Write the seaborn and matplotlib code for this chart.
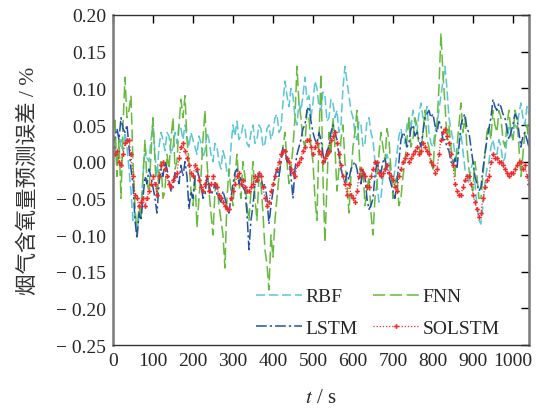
import numpy as np
import pandas as pd
import matplotlib
matplotlib.use("Agg")
import matplotlib.pyplot as plt
import seaborn as sns

# ---------------- data (sampled every 5 s) ----------------
t = list(range(0, 1041, 5))

rbf = [0.01, 0.025, -0.005, 0.01, 0.03, 0.015, 0.04, 0.02, -0.01, -0.04,
       -0.08, -0.07, -0.095, -0.075, -0.06, -0.02, 0.02, 0.005, 0.0, 0.03,
       0.055, 0.01, -0.02, 0.02, 0.04, 0.03, 0.015, 0.04, 0.035, 0.01,
       0.02, 0.04, 0.025, 0.05, 0.045, 0.03, 0.05, 0.035, 0.02, 0.04,
       0.03, 0.02, 0.01, 0.035, 0.025, 0.005, 0.015, 0.04, 0.03, 0.01,
       0.0, 0.025, 0.02, 0.0, -0.01, 0.015, 0.005, -0.015, -0.02, 0.02,
       0.05, 0.035, 0.055, 0.03, 0.035, 0.05, 0.045, 0.025, 0.02, 0.04,
       0.05, 0.025, 0.03, 0.05, 0.045, 0.02, 0.025, 0.045, 0.05, 0.03,
       0.04, 0.06, 0.065, 0.04, 0.045, 0.08, 0.11, 0.09, 0.075, 0.1,
       0.09, 0.06, 0.05, 0.08, 0.07, 0.09, 0.115, 0.085, 0.09, 0.06,
       0.08, 0.11, 0.1, 0.075, 0.07, 0.095, 0.09, 0.055, 0.06, 0.085,
       0.08, 0.06, 0.07, 0.04, 0.05, 0.1, 0.13, 0.11, 0.09, 0.07,
       0.06, 0.04, 0.03, 0.055, 0.05, 0.02, 0.025, 0.055, 0.06, 0.04,
       0.03, 0.0, -0.03, -0.055, -0.05, -0.02, -0.01, 0.01, 0.0, -0.02,
       -0.03, -0.01, 0.01, 0.035, 0.045, 0.03, 0.025, 0.05, 0.06, 0.045,
       0.07, 0.055, 0.04, 0.065, 0.08, 0.06, 0.06, 0.075, 0.04, 0.025,
       0.02, 0.04, 0.05, 0.07, 0.09, 0.11, 0.13, 0.1, 0.06, 0.045,
       0.03, 0.01, 0.0, 0.025, 0.04, 0.015, -0.01, -0.02, -0.03, -0.01,
       0.0, -0.03, -0.06, -0.08, -0.085, -0.06, -0.03, -0.01, 0.0, 0.02,
       0.03, 0.015, 0.01, 0.03, 0.02, 0.0, 0.005, 0.03, 0.05, 0.04,
       0.03, 0.05, 0.045, 0.065, 0.08, 0.06, 0.05, 0.075, 0.065]

fnn = [0.04, 0.06, -0.02, 0.03, -0.05, 0.05, 0.115, 0.06, 0.07, 0.09,
       0.0, -0.06, -0.1, -0.06, -0.08, -0.02, 0.03, -0.03, -0.04, 0.01,
       0.06, 0.0, -0.05, -0.01, 0.0, -0.05, -0.04, 0.01, -0.01, 0.03,
       0.06, -0.01, 0.0, 0.05, 0.085, 0.06, 0.09, 0.03, 0.0, -0.04,
       -0.06, -0.02, -0.09, -0.05, -0.02, 0.03, 0.07, 0.0, -0.04, -0.07,
       -0.1, -0.04, -0.03, -0.06, -0.08, -0.1, -0.145, -0.05, -0.01, -0.04,
       -0.06, -0.02, 0.01, -0.03, -0.05, 0.0, -0.02, -0.06, -0.08, -0.04,
       0.0, -0.05, -0.08, -0.02, -0.03, -0.07, -0.12, -0.14, -0.175, -0.1,
       -0.13, -0.08, -0.05, -0.02, 0.0, 0.02, 0.04, 0.0, -0.03, -0.01,
       0.02, 0.06, 0.13, 0.08, 0.06, 0.03, 0.02, 0.07, 0.06, 0.02,
       0.0, -0.05, -0.08, 0.03, 0.12, -0.02, -0.11, -0.03, 0.04, 0.01,
       0.06, 0.02, -0.04, -0.01, 0.03, 0.05, 0.0, -0.03, -0.07, -0.02,
       0.02, 0.04, 0.07, 0.02, -0.03, -0.01, -0.06, -0.04, -0.02, -0.07,
       -0.1, -0.05, -0.03, 0.01, 0.04, 0.02, 0.0, 0.045, 0.03, -0.01,
       -0.05, -0.03, -0.02, -0.06, -0.05, -0.02, 0.0, 0.03, 0.06, 0.02,
       0.03, 0.06, 0.05, 0.02, 0.01, 0.04, 0.07, 0.03, 0.02, 0.0,
       -0.01, 0.03, 0.05, 0.1, 0.175, 0.12, 0.08, 0.03, 0.05, 0.02,
       0.0, -0.02, 0.02, 0.05, 0.08, 0.04, 0.06, 0.02, -0.01, -0.03,
       -0.04, 0.0, -0.02, -0.05, -0.05, -0.02, 0.01, 0.04, 0.05, 0.03,
       0.07, 0.05, 0.04, 0.07, 0.06, 0.03, 0.02, 0.05, 0.07, 0.04,
       0.03, 0.07, 0.06, 0.02, -0.02, 0.01, 0.04, 0.05, 0.02]

lstm = [0.02, 0.035, 0.045, 0.03, 0.06, 0.045, 0.04, 0.05, 0.02, -0.01,
        -0.03, -0.08, -0.105, -0.07, -0.08, -0.05, -0.02, -0.03, -0.01, -0.02,
        -0.035, -0.05, -0.07, -0.03, -0.01, -0.02, 0.0, -0.01, -0.025, -0.04,
        -0.035, -0.015, -0.02, -0.03, -0.005, -0.02, 0.0, -0.02, -0.065, -0.04,
        -0.05, -0.02, -0.01, -0.02, -0.03, -0.05, -0.045, -0.02, -0.03, -0.045,
        -0.04, -0.03, -0.045, -0.05, -0.055, -0.04, -0.05, -0.06, -0.07, -0.05,
        -0.03, -0.015, -0.01, -0.03, -0.02, -0.035, -0.04, -0.07, -0.12, -0.08,
        -0.06, -0.03, -0.025, -0.015, -0.02, -0.035, -0.03, -0.05, -0.085, -0.06,
        -0.04, -0.02, -0.01, -0.02, 0.0, 0.02, 0.015, 0.0, 0.005, -0.02,
        -0.05, -0.01, 0.01, 0.02, 0.03, 0.045, 0.05, 0.07, 0.075, 0.055,
        0.04, 0.03, 0.025, 0.04, 0.03, 0.01, 0.0, 0.015, 0.02, 0.04,
        0.05, 0.04, 0.03, 0.01, -0.01, -0.02, -0.03, -0.015, -0.025, -0.01,
        -0.005, 0.0, -0.01, -0.025, -0.03, -0.01, -0.02, -0.05, -0.065, -0.06,
        -0.05, -0.02, 0.0, -0.01, -0.015, 0.0, 0.005, -0.01, -0.02, -0.03,
        -0.04, -0.05, -0.03, 0.0, 0.03, 0.04, 0.035, 0.02, 0.025, 0.045,
        0.05, 0.035, 0.04, 0.03, 0.02, 0.04, 0.06, 0.065, 0.07, 0.06,
        0.065, 0.05, 0.04, 0.055, 0.05, 0.03, 0.03, 0.02, 0.015, 0.0,
        -0.005, 0.005, -0.01, 0.02, 0.05, 0.06, 0.065, 0.045, 0.04, 0.02,
        0.0, -0.02, -0.03, -0.04, -0.035, -0.01, 0.01, 0.03, 0.045, 0.06,
        0.085, 0.075, 0.07, 0.08, 0.075, 0.065, 0.06, 0.045, 0.03, 0.04,
        0.05, 0.065, 0.06, 0.04, 0.02, 0.035, 0.04, 0.03, 0.02]

solstm = [0.02, 0.01, 0.015, 0.0, -0.005, 0.01, 0.025, 0.03, 0.03, 0.01,
          -0.02, -0.045, -0.05, -0.06, -0.055, -0.05, -0.06, -0.05, -0.04, -0.03,
          -0.02, -0.03, -0.045, -0.02, -0.005, 0.0, -0.01, -0.02, -0.03, -0.035,
          -0.025, -0.02, -0.015, 0.005, 0.02, 0.025, 0.015, 0.005, -0.005, -0.015,
          -0.02, -0.005, -0.01, -0.025, -0.035, -0.04, -0.03, -0.02, -0.04, -0.03,
          -0.02, -0.03, -0.035, -0.045, -0.05, -0.055, -0.06, -0.065, -0.065, -0.05,
          -0.04, -0.03, -0.02, -0.015, -0.03, -0.025, -0.035, -0.04, -0.04, -0.035,
          -0.03, -0.02, -0.025, -0.015, -0.02, -0.035, -0.05, -0.06, -0.055, -0.04,
          -0.03, -0.02, -0.01, 0.0, 0.01, 0.015, 0.015, 0.005, 0.0, -0.01,
          -0.015, -0.02, -0.005, 0.0, 0.005, 0.015, 0.02, 0.03, 0.03, 0.02,
          0.01, 0.02, 0.025, 0.015, 0.01, 0.0, 0.005, 0.01, 0.015, 0.03,
          0.035, 0.04, 0.025, 0.01, -0.005, -0.02, -0.03, -0.045, -0.03, -0.045,
          -0.05, -0.055, -0.04, -0.02, -0.01, -0.015, -0.02, -0.035, -0.035, -0.02,
          -0.01, 0.0, 0.0, -0.015, -0.02, -0.015, -0.01, -0.005, -0.015, -0.02,
          -0.025, -0.035, -0.04, -0.02, -0.01, 0.0, 0.005, 0.01, 0.0, 0.005,
          0.01, 0.015, 0.02, 0.01, 0.015, 0.025, 0.02, 0.015, 0.01, 0.0,
          -0.005, -0.015, -0.01, 0.01, 0.03, 0.04, 0.045, 0.035, 0.025, 0.01,
          -0.005, -0.03, -0.04, -0.045, -0.045, -0.035, -0.025, -0.02, -0.02, -0.03,
          -0.045, -0.055, -0.065, -0.075, -0.07, -0.05, -0.035, -0.025, -0.02, 0.0,
          0.01, 0.005, 0.005, 0.0, 0.0, -0.005, -0.01, -0.015, -0.02, -0.015,
          -0.015, -0.01, -0.005, 0.0, 0.0, -0.01, -0.005, -0.02, -0.03]

series_names = ["RBF", "FNN", "LSTM", "SOLSTM"]
legend_order = ["RBF", "LSTM", "FNN", "SOLSTM"]  # column-wise fill -> rows RBF/FNN, LSTM/SOLSTM
xtick_vals = list(range(0, 1001, 100))
ytick_vals = [-0.25, -0.20, -0.15, -0.10, -0.05, 0.0, 0.05, 0.10, 0.15, 0.20]
ytick_labels = ["\u2212 0.25", "\u2212 0.20", "\u2212 0.15", "\u2212 0.10", "\u2212 0.05",
                "0.00", "0.05", "0.10", "0.15", "0.20"]
ylabel_text = "烟气含氧量预测误差 / %"
xlabel_text = "$t$ / s"

for arr in (rbf, fnn, lstm, solstm):
    assert len(arr) == len(t), (len(arr), len(t))

# ---------------- style ----------------
sns.set_theme(style="white")
plt.rcParams["font.family"] = ["Liberation Serif", "Noto Sans CJK SC"]
plt.rcParams["mathtext.fontset"] = "stix"

fig = plt.figure(figsize=(5.36, 4.10), dpi=100)
ax = fig.add_axes([0.2108, 0.156, 0.776, 0.805])

styles = {
    "RBF": dict(color="#5BC6D6", lw=1.1, linestyle=(0, (6, 2.5))),
    "FNN": dict(color="#66BB3C", lw=1.1, linestyle=(0, (8, 3))),
    "LSTM": dict(color="#2350A5", lw=1.1, linestyle=(0, (7, 2, 1.5, 2))),
    "SOLSTM": dict(color="#EE2A2A", lw=0.9, linestyle=(0, (1, 1.5)),
                   marker="P", markersize=3.4, markeredgewidth=0),
}
data = {"RBF": rbf, "FNN": fnn, "LSTM": lstm, "SOLSTM": solstm}

for name in series_names:
    sns.lineplot(x=t, y=data[name], ax=ax, label=name, **styles[name])

ax.set_xlim(0, 1040)
ax.set_ylim(-0.25, 0.20)
ax.set_xticks(xtick_vals)
ax.set_yticks(ytick_vals)
ax.set_yticklabels(ytick_labels)
ax.tick_params(axis="both", which="both", direction="in", length=6, width=1,
               top=True, right=True, labelsize=14, color="black", pad=5)
for s in ["left", "right"]:
    ax.spines[s].set_color("#7a7a7a")
    ax.spines[s].set_linewidth(1.8)
for s in ["top", "bottom"]:
    ax.spines[s].set_color("#333333")
    ax.spines[s].set_linewidth(1.0)

ax.set_xlabel(xlabel_text, fontsize=15, labelpad=14)
ax.set_ylabel(ylabel_text, fontsize=15.5, labelpad=12, color="#333333")

handles, labels = ax.get_legend_handles_labels()
hmap = dict(zip(labels, handles))
leg = ax.legend([hmap[n] for n in legend_order], legend_order,
                ncol=2, loc="lower left", bbox_to_anchor=(0.315, -0.01),
                frameon=False, fontsize=14, handlelength=2.4, handletextpad=0.15,
                columnspacing=0.8, labelspacing=0.7, borderaxespad=0.2)

fig.savefig("out.png", dpi=100)
